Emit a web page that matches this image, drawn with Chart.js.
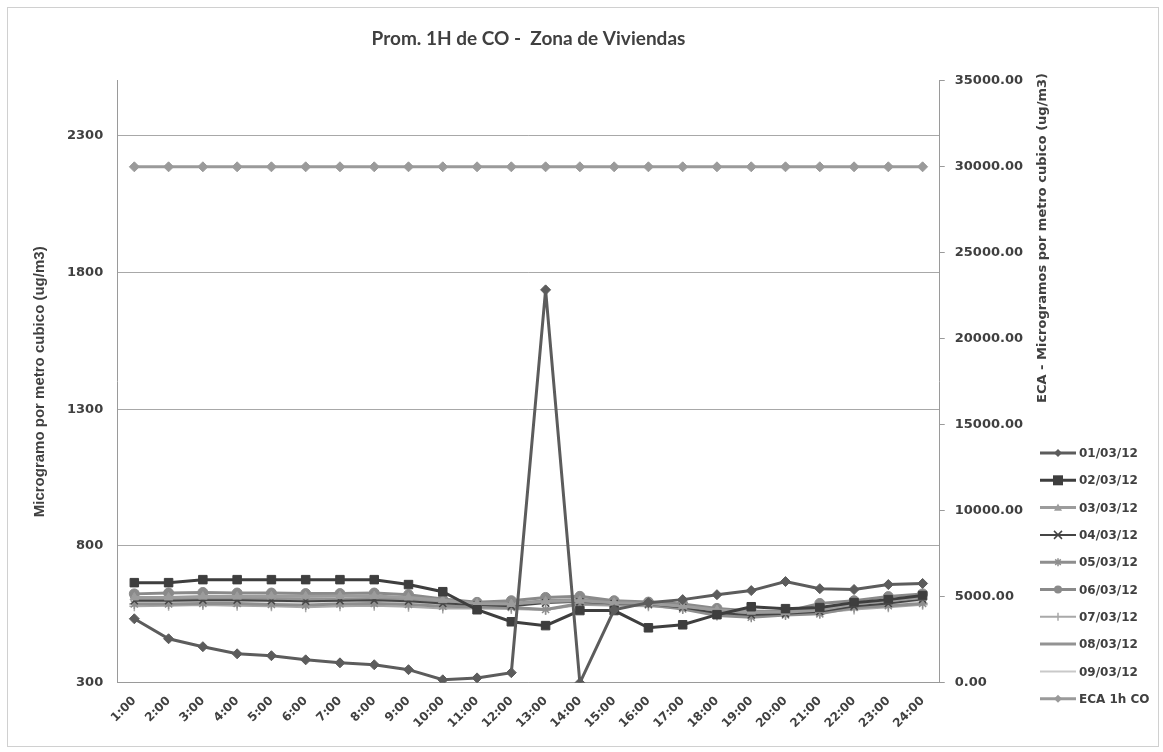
<!DOCTYPE html>
<html>
<head>
<meta charset="utf-8">
<script src="https://cdn.jsdelivr.net/npm/chart.js@4/dist/chart.umd.min.js"></script>
<style>
  html, body { margin: 0; padding: 0; background: #fff; }
  #frame { position: absolute; left: 7px; top: 7px; width: 1150px; height: 738px; border: 1px solid #d0d0d0; }
  #wrap { position: absolute; left: 0; top: 0; width: 1163px; height: 752px; }
</style>
</head>
<body>
<div id="frame"></div>
<div id="wrap"><canvas id="coChart" width="1163" height="752"></canvas></div>
<script>
// Horas
const hours = ["1:00", "2:00", "3:00", "4:00", "5:00", "6:00", "7:00", "8:00", "9:00", "10:00", "11:00", "12:00",
  "13:00", "14:00", "15:00", "16:00", "17:00", "18:00", "19:00", "20:00", "21:00", "22:00", "23:00", "24:00"];

// CO promedio 1h por dia (ug/m3)
const d0103 = [534, 461, 432, 406, 399, 384, 373, 366, 348, 311, 318, 337, 1736, 300, 567, 593, 604, 622, 637, 670, 644, 641, 659, 663];
const d0203 = [666, 666, 677, 677, 677, 677, 677, 677, 659, 633, 567, 523, 509, 564, 564, 501, 512, 549, 578, 571, 575, 593, 604, 619];
const d0303 = [612, 612, 615, 615, 616, 616, 617, 617, 612, 602, 590, 588, 597, 600, 593, 590, 580, 566, 560, 558, 566, 588, 600, 612];
const d0403 = [600, 600, 602, 602, 600, 598, 600, 602, 598, 590, 585, 580, 592, 596, 590, 588, 575, 555, 548, 552, 560, 580, 590, 605];
const d0503 = [588, 588, 590, 590, 586, 584, 588, 590, 586, 580, 578, 575, 568, 590, 588, 585, 570, 546, 540, 548, 552, 575, 582, 590];
const d0603 = [625, 628, 630, 628, 628, 626, 626, 628, 622, 606, 594, 600, 612, 616, 600, 595, 588, 572, 562, 560, 590, 600, 615, 625];
const d0703 = [580, 582, 584, 582, 580, 576, 580, 582, 578, 572, 572, 570, 566, 585, 582, 580, 572, 552, 545, 552, 556, 568, 576, 585];
const d0803 = [606, 606, 608, 608, 608, 606, 606, 608, 604, 596, 590, 590, 600, 604, 596, 592, 582, 565, 558, 560, 570, 585, 596, 608];
const d0903 = [596, 596, 598, 598, 597, 596, 596, 598, 594, 588, 584, 586, 594, 598, 592, 588, 578, 562, 556, 558, 566, 580, 590, 600];

// Estandar de calidad ambiental (eje derecho)
const eca1h = [30000, 30000, 30000, 30000, 30000, 30000, 30000, 30000, 30000, 30000, 30000, 30000,
  30000, 30000, 30000, 30000, 30000, 30000, 30000, 30000, 30000, 30000, 30000, 30000];

// Marcas del eje izquierdo
const leftTicks = [300, 800, 1300, 1800, 2300];

const tickFont = { family: "DejaVu Sans", size: 13, weight: "bold" };
const txt = "#404040";

function serie(label, data, color, style, radius, width, axis) {
  return {
    label: label,
    data: data,
    borderColor: color,
    backgroundColor: color,
    borderWidth: width,
    pointStyle: style,
    pointRadius: style ? radius : 0,
    pointBorderWidth: style === "crossRot" || style === "cross" || style === "star" ? 1.5 : 1,
    pointBackgroundColor: color,
    pointBorderColor: color,
    yAxisID: axis || "y",
    tension: 0,
  };
}

const datasets = [
  serie("01/03/12", d0103, "#5c5c5c", "rectRot", 5, 3),
  serie("02/03/12", d0203, "#3e3e3e", "rect", 6, 3),
  serie("03/03/12", d0303, "#9c9c9c", "triangle", 5, 3),
  serie("04/03/12", d0403, "#454545", "crossRot", 5, 2),
  serie("05/03/12", d0503, "#8e8e8e", "star", 5, 3),
  serie("06/03/12", d0603, "#8a8a8a", "circle", 5, 3),
  serie("07/03/12", d0703, "#a9a9a9", "cross", 5, 2),
  serie("08/03/12", d0803, "#939393", false, 0, 3),
  serie("09/03/12", d0903, "#c9c9c9", false, 0, 2),
  serie("ECA 1h CO", eca1h, "#9a9a9a", "rectRot", 5, 3, "y2"),
];

// Marcador pequeno para la leyenda
function drawMarker(ctx, style, x, y, r, color) {
  ctx.save();
  ctx.fillStyle = color;
  ctx.strokeStyle = color;
  ctx.lineWidth = 1.5;
  ctx.beginPath();
  if (style === "rectRot") {
    ctx.moveTo(x, y - r); ctx.lineTo(x + r, y); ctx.lineTo(x, y + r); ctx.lineTo(x - r, y); ctx.closePath(); ctx.fill();
  } else if (style === "rect") {
    ctx.rect(x - r, y - r, 2 * r, 2 * r); ctx.fill();
  } else if (style === "triangle") {
    ctx.moveTo(x, y - r); ctx.lineTo(x + r, y + r * 0.8); ctx.lineTo(x - r, y + r * 0.8); ctx.closePath(); ctx.fill();
  } else if (style === "circle") {
    ctx.arc(x, y, r, 0, Math.PI * 2); ctx.fill();
  } else if (style === "crossRot") {
    ctx.moveTo(x - r, y - r); ctx.lineTo(x + r, y + r); ctx.moveTo(x + r, y - r); ctx.lineTo(x - r, y + r); ctx.stroke();
  } else if (style === "cross") {
    ctx.moveTo(x, y - r); ctx.lineTo(x, y + r); ctx.stroke();
  } else if (style === "star") {
    ctx.moveTo(x, y - r); ctx.lineTo(x, y + r);
    ctx.moveTo(x - r * 0.7, y - r * 0.7); ctx.lineTo(x + r * 0.7, y + r * 0.7);
    ctx.moveTo(x + r * 0.7, y - r * 0.7); ctx.lineTo(x - r * 0.7, y + r * 0.7);
    ctx.stroke();
  }
  ctx.restore();
}

// Leyenda a la derecha y titulo del eje secundario (se lee de abajo hacia arriba)
const sideLegend = {
  id: "sideLegend",
  afterDraw(chart) {
    const ctx = chart.ctx;
    const x0 = 1040, y0 = 453, step = 27.3;
    chart.data.datasets.forEach((ds, i) => {
      const y = y0 + i * step;
      ctx.save();
      ctx.strokeStyle = ds.borderColor;
      ctx.lineWidth = ds.borderWidth;
      ctx.beginPath();
      ctx.moveTo(x0, y);
      ctx.lineTo(x0 + 36, y);
      ctx.stroke();
      ctx.restore();
      if (ds.pointStyle) drawMarker(ctx, ds.pointStyle, x0 + 18, y, ds.pointStyle === "rect" ? 5 : 4, ds.borderColor);
      ctx.save();
      ctx.fillStyle = txt;
      ctx.font = "bold 12px 'DejaVu Sans'";
      ctx.textBaseline = "middle";
      ctx.fillText(ds.label, x0 + 39, y + 1);
      ctx.restore();
    });

    ctx.save();
    ctx.translate(1043, 238);
    ctx.rotate(-Math.PI / 2);
    ctx.fillStyle = txt;
    ctx.font = "bold 13px 'DejaVu Sans'";
    ctx.textAlign = "center";
    ctx.textBaseline = "middle";
    ctx.fillText("ECA - Microgramos por metro cubico (ug/m3)", 0, 0);
    ctx.restore();
  },
};

const ctx = document.getElementById("coChart").getContext("2d");

const coChart = new Chart(ctx, {
  type: "line",
  data: { labels: hours, datasets: datasets },
  plugins: [sideLegend],
  options: {
    responsive: false,
    animation: false,
    layout: { padding: { left: 27, right: 130, top: 19, bottom: 18 } },
    plugins: {
      legend: { display: false },
      tooltip: { enabled: false },
      title: {
        display: true,
        fullSize: false,
        text: "Prom. 1H de CO -  Zona de Viviendas",
        color: txt,
        font: { family: "Lato", size: 19, weight: "bold" },
        padding: { top: 8, bottom: 31 },
      },
    },
    scales: {
      x: {
        offset: true,
        grid: { display: false },
        border: { display: true, color: "#9a9a9a" },
        ticks: { color: txt, font: { family: "DejaVu Sans", size: 12, weight: "bold" }, maxRotation: 45, minRotation: 45, autoSkip: false },
      },
      y: {
        position: "left",
        min: 300,
        max: 2500,
        afterBuildTicks: (s) => { s.ticks = leftTicks.map((v) => ({ value: v })); },
        ticks: { color: txt, font: tickFont, padding: 14, callback: (v) => String(v) },
        grid: { color: "#a8a8a8", drawTicks: false },
        border: { display: true, color: "#9a9a9a" },
        title: {
          display: true,
          text: "Microgramo por metro cubico (ug/m3)",
          color: txt,
          font: { family: "Liberation Sans", size: 15, weight: "bold" },
          padding: { top: 4, bottom: 4 },
        },
      },
      y2: {
        position: "right",
        min: 0,
        max: 35000,
        ticks: { stepSize: 5000, color: txt, font: tickFont, padding: 10, callback: (v) => v.toFixed(2) },
        grid: { drawOnChartArea: false, tickLength: 5, color: "#9a9a9a" },
        border: { display: true, color: "#9a9a9a" },
      },
    },
  },
});
</script>
</body>
</html>
